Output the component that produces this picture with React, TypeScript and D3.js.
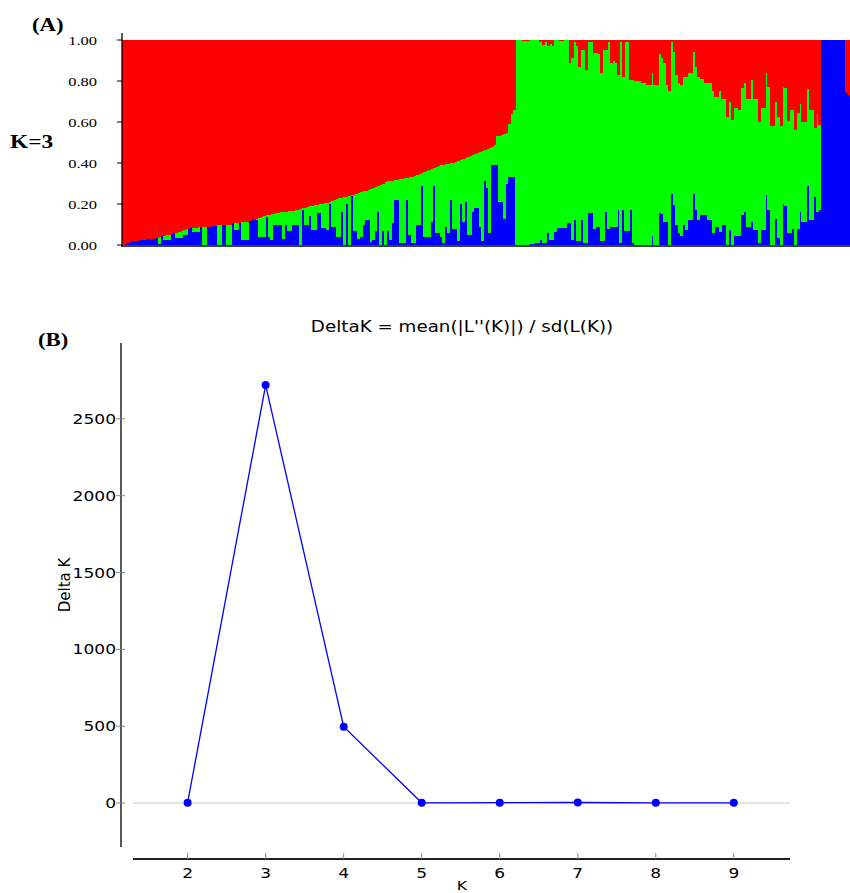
import React from 'react';
import * as d3 from 'd3';

// (A) STRUCTURE bar plot, K=3. Membership q per individual, in plot order.
// Stored per block: red and blue share, green is the remainder.
const redGroupRed = [
  1.000, 0.995, 0.990, 0.985, 0.980, 0.980, 0.980, 0.975, 0.975, 0.975,
  0.970, 0.970, 0.970, 0.970, 0.965, 0.960, 0.955, 0.955, 0.950, 0.950,
  0.945, 0.940, 0.940, 0.935, 0.930, 0.925, 0.920, 0.920, 0.915, 0.915,
  0.915, 0.910, 0.910, 0.910, 0.910, 0.910, 0.910, 0.905, 0.905, 0.900,
  0.900, 0.900, 0.900, 0.900, 0.900, 0.895, 0.895, 0.895, 0.895, 0.890,
  0.890, 0.890, 0.885, 0.880, 0.880, 0.875, 0.870, 0.865, 0.860, 0.855,
  0.855, 0.850, 0.850, 0.845, 0.845, 0.840, 0.840, 0.840, 0.835, 0.835,
  0.835, 0.830, 0.830, 0.825, 0.820, 0.820, 0.815, 0.810, 0.810, 0.805,
  0.805, 0.800, 0.800, 0.795, 0.795, 0.790, 0.785, 0.780, 0.775, 0.770,
  0.770, 0.765, 0.765, 0.760, 0.755, 0.755, 0.750, 0.745, 0.740, 0.735,
  0.735, 0.730, 0.725, 0.720, 0.715, 0.710, 0.705, 0.700, 0.695, 0.690,
  0.690, 0.690, 0.685, 0.685, 0.680, 0.680, 0.675, 0.675, 0.670, 0.670,
  0.665, 0.660, 0.655, 0.650, 0.645, 0.640, 0.635, 0.630, 0.625, 0.620,
  0.615, 0.610, 0.610, 0.605, 0.605, 0.600, 0.600, 0.595, 0.590, 0.585,
  0.580, 0.575, 0.570, 0.565, 0.560, 0.555, 0.550, 0.545, 0.540, 0.535,
  0.530, 0.525, 0.520, 0.510, 0.470, 0.470, 0.465, 0.460, 0.455, 0.410, 0.360, 0.340,
];
const redGroupBlue = [
  0.000, 0.005, 0.010, 0.015, 0.020, 0.020, 0.020, 0.025, 0.025, 0.025,
  0.030, 0.030, 0.030, 0.030, 0.035, 0.005, 0.045, 0.025, 0.025, 0.025,
  0.055, 0.060, 0.035, 0.035, 0.035, 0.050, 0.050, 0.080, 0.085, 0.065,
  0.065, 0.065, 0.090, 0.000, 0.000, 0.090, 0.090, 0.095, 0.095, 0.000,
  0.000, 0.100, 0.100, 0.000, 0.000, 0.105, 0.073, 0.073, 0.105, 0.025,
  0.025, 0.025, 0.115, 0.120, 0.120, 0.120, 0.040, 0.040, 0.040, 0.137,
  0.040, 0.025, 0.100, 0.100, 0.100, 0.097, 0.030, 0.097, 0.070, 0.070,
  0.100, 0.100, 0.100, 0.000, 0.170, 0.100, 0.100, 0.140, 0.073, 0.073,
  0.156, 0.156, 0.083, 0.083, 0.073, 0.200, 0.090, 0.090, 0.040, 0.040,
  0.160, 0.000, 0.200, 0.000, 0.240, 0.070, 0.070, 0.030, 0.040, 0.100,
  0.120, 0.120, 0.015, 0.025, 0.070, 0.160, 0.000, 0.070, 0.000, 0.070,
  0.025, 0.107, 0.220, 0.220, 0.010, 0.010, 0.010, 0.220, 0.050, 0.010,
  0.010, 0.100, 0.100, 0.290, 0.040, 0.040, 0.040, 0.110, 0.290, 0.060,
  0.060, 0.040, 0.010, 0.090, 0.060, 0.220, 0.080, 0.080, 0.020, 0.200,
  0.110, 0.210, 0.050, 0.050, 0.160, 0.180, 0.180, 0.090, 0.020, 0.310,
  0.280, 0.060, 0.390, 0.390, 0.390, 0.210, 0.210, 0.125, 0.300, 0.330, 0.330, 0.330,
];
const greenGroupRed = [
  0.000, 0.000, 0.000, 0.005, 0.005, 0.005, 0.000, 0.000, 0.000, 0.000,
  0.010, 0.025, 0.010, 0.030, 0.020, 0.030, 0.000, 0.000, 0.005, 0.005,
  0.000, 0.000, 0.110, 0.090, 0.010, 0.030, 0.130, 0.050, 0.050, 0.146,
  0.010, 0.010, 0.065, 0.065, 0.070, 0.160, 0.050, 0.050, 0.010, 0.110,
  0.100, 0.110, 0.170, 0.010, 0.180, 0.010, 0.010, 0.195, 0.195, 0.200,
  0.200, 0.200, 0.210, 0.210, 0.220, 0.220, 0.160, 0.220, 0.220, 0.070,
  0.090, 0.110, 0.220, 0.250, 0.010, 0.060, 0.170, 0.210, 0.220, 0.180,
  0.180, 0.160, 0.160, 0.060, 0.130, 0.180, 0.190, 0.190, 0.210, 0.210,
  0.210, 0.250, 0.280, 0.280, 0.250, 0.290, 0.290, 0.375, 0.300, 0.390,
  0.330, 0.330, 0.340, 0.235, 0.210, 0.290, 0.290, 0.195, 0.290, 0.290,
  0.400, 0.330, 0.330, 0.160, 0.230, 0.420, 0.420, 0.300, 0.375, 0.420,
  0.230, 0.235, 0.395, 0.340, 0.340, 0.440, 0.355, 0.310, 0.400, 0.400,
  0.240, 0.340, 0.340, 0.430, 0.360, 0.415,
];
const greenGroupBlue = [
  0.000, 0.000, 0.000, 0.000, 0.000, 0.000, 0.005, 0.005, 0.010, 0.010,
  0.023, 0.010, 0.010, 0.057, 0.025, 0.025, 0.065, 0.082, 0.082, 0.082,
  0.082, 0.106, 0.106, 0.025, 0.120, 0.020, 0.020, 0.120, 0.010, 0.010,
  0.155, 0.155, 0.080, 0.090, 0.090, 0.020, 0.020, 0.160, 0.080, 0.090,
  0.090, 0.090, 0.170, 0.010, 0.170, 0.070, 0.070, 0.170, 0.010, 0.000,
  0.000, 0.000, 0.000, 0.000, 0.000, 0.000, 0.045, 0.000, 0.000, 0.155,
  0.150, 0.110, 0.110, 0.000, 0.250, 0.195, 0.100, 0.060, 0.045, 0.100,
  0.075, 0.120, 0.120, 0.250, 0.170, 0.120, 0.145, 0.145, 0.145, 0.120,
  0.120, 0.060, 0.090, 0.090, 0.065, 0.100, 0.100, 0.000, 0.075, 0.000,
  0.045, 0.045, 0.045, 0.145, 0.160, 0.090, 0.090, 0.110, 0.075, 0.075,
  0.010, 0.075, 0.075, 0.245, 0.170, 0.000, 0.000, 0.125, 0.035, 0.000,
  0.200, 0.190, 0.060, 0.060, 0.080, 0.000, 0.080, 0.160, 0.110, 0.110,
  0.290, 0.120, 0.120, 0.235, 0.160, 0.170,
];
const blueGroupRed = [0, 0, 0, 0, 0, 0, 0, 0, 0, 0, 0.26, 0.27];
const blueGroupBlue = [1, 1, 1, 1, 1, 1, 1, 1, 1, 1, 0.74, 0.73];

const qTicks = [0, 0.2, 0.4, 0.6, 0.8, 1.0];

// (B) Evanno DeltaK
const kValues = [2, 3, 4, 5, 6, 7, 8, 9];
const deltaK = [2, 2720, 497, 1.5, 2.5, 3.5, 1.2, 1.5];
const deltaTicks = [0, 500, 1000, 1500, 2000, 2500];

const serif = '"Liberation Serif", "Times New Roman", serif';
const sans = '"DejaVu Sans", sans-serif';
const SX = 1.22; // the figure's text is stretched horizontally

export default function App() {
  const rows = [
    ...redGroupRed.map((r, i) => ({ red: r, blue: redGroupBlue[i] })),
    ...greenGroupRed.map((r, i) => ({ red: r, blue: greenGroupBlue[i] })),
    ...blueGroupRed.map((r, i) => ({ red: r, blue: blueGroupBlue[i] })),
  ].map((d, i) => ({ id: i, blue: d.blue, green: Math.max(0, 1 - d.red - d.blue), red: d.red }));

  const series = d3.stack<any>().keys(['blue', 'green', 'red'])(rows);
  const colors: Record<string, string> = { blue: '#0000ff', green: '#00ff00', red: '#ff0000' };

  const x = d3.scaleBand<number>().domain(rows.map(d => d.id)).range([122, 850]).paddingInner(0);
  const yq = d3.scaleLinear().domain([0, 1]).range([245, 40]);

  const xk = d3.scaleLinear().domain([1.3, 9.72]).range([133, 790]);
  const yd = d3.scaleLinear().domain([-286, 3000]).range([847, 342]);
  const line = d3.line<number>().x((_, i) => xk(kValues[i])).y(d => yd(d));

  return (
    <svg width={850} height={893} style={{ position: 'absolute', left: 0, top: 0, background: '#fff' }}>
      {/* (A) */}
      <text transform="translate(32,31) scale(1.2,1)" fontFamily={serif} fontWeight="bold" fontSize={19}>(A)</text>
      <text transform="translate(10,148) scale(1.3,1)" fontFamily={serif} fontWeight="bold" fontSize={18}>K=3</text>
      {series.map(s => (
        <g key={s.key} fill={colors[s.key]} shapeRendering="crispEdges">
          {s.map((d, i) => (
            <rect key={i} x={x(rows[i].id)!} width={x.bandwidth() + 0.5}
              y={yq(d[1])} height={Math.max(0, yq(d[0]) - yq(d[1]))} />
          ))}
        </g>
      ))}
      <line x1={122} x2={122} y1={33} y2={246} stroke="#000" strokeWidth={1.3} />
      <line x1={121} x2={850} y1={246} y2={246} stroke="#000" strokeWidth={1.6} />
      {qTicks.map(t => (
        <g key={t}>
          <line x1={117} x2={122} y1={yq(t)} y2={yq(t)} stroke="#000" strokeWidth={1} />
          <text transform={`translate(97,${yq(t) + 4.5}) scale(1.27,1)`} textAnchor="end"
            fontFamily={serif} fontSize={13}>{t.toFixed(2)}</text>
        </g>
      ))}

      {/* (B) */}
      <text transform="translate(38,346) scale(1.2,1)" fontFamily={serif} fontWeight="bold" fontSize={19}>(B)</text>
      <text transform={`translate(462,332) scale(${SX},1)`} textAnchor="middle" fontFamily={sans} fontSize={15}>
        DeltaK = mean(|L''(K)|) / sd(L(K))
      </text>
      <line x1={133} x2={790} y1={yd(0)} y2={yd(0)} stroke="#cccccc" strokeWidth={1} />
      <line x1={121} x2={121} y1={343} y2={847} stroke="#222" strokeWidth={1.5} />
      {deltaTicks.map(t => (
        <g key={t}>
          <line x1={116} x2={125} y1={yd(t)} y2={yd(t)} stroke="#888" strokeWidth={1} />
          <text transform={`translate(116,${yd(t) + 5}) scale(${SX},1)`} textAnchor="end"
            fontFamily={sans} fontSize={14}>{t}</text>
        </g>
      ))}
      <text transform={`translate(70,585) scale(1.1,1) rotate(-90)`} textAnchor="middle"
        fontFamily={sans} fontSize={15}>Delta K</text>
      <line x1={133} x2={790} y1={859} y2={859} stroke="#222" strokeWidth={2} />
      {kValues.map(k => (
        <g key={k}>
          <line x1={xk(k)} x2={xk(k)} y1={853} y2={859} stroke="#888" strokeWidth={1} />
          <text transform={`translate(${xk(k)},878) scale(${SX},1)`} textAnchor="middle"
            fontFamily={sans} fontSize={14}>{k}</text>
        </g>
      ))}
      <text transform={`translate(462,890) scale(${SX},1)`} textAnchor="middle" fontFamily={sans} fontSize={13}>K</text>
      <path d={line(deltaK)!} fill="none" stroke="#0000ff" strokeWidth={1.3} />
      {deltaK.map((v, i) => (
        <circle key={i} cx={xk(kValues[i])} cy={yd(v)} r={4} fill="#0000ff" />
      ))}
    </svg>
  );
}
